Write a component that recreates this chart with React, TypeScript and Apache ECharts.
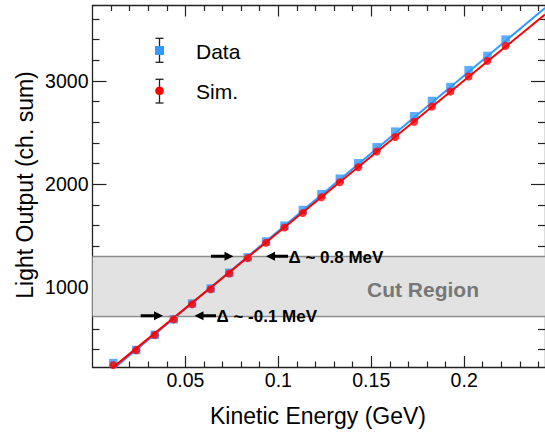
import React, { useEffect, useRef } from "react";
import * as echarts from "echarts";

// ---- data ----
const energies = [
  0.0112, 0.0235, 0.0335, 0.0437, 0.0536, 0.0636, 0.0736, 0.0835, 0.0934, 0.1033, 0.1132,
  0.1232, 0.1331, 0.143, 0.1529, 0.1629, 0.1731, 0.1827, 0.1926, 0.2024, 0.2125, 0.2223,
];
const dataLight = [
  268, 395, 542, 692, 845, 990, 1142, 1292, 1445, 1598, 1750,
  1903, 2053, 2203, 2358, 2509, 2657, 2806, 2940, 3104, 3242, 3400,
];
const simLight = [
  248, 393, 539, 691, 837, 983, 1135, 1284, 1433, 1580, 1721,
  1873, 2018, 2164, 2317, 2457, 2605, 2751, 2896, 3042, 3194, 3339,
];

// linear fits drawn over the points: y = a + b * x
const dataFit = { a: 42, b: 15050 };
const simFit = { a: 64, b: 14700 };

const X_MIN = 0;
const X_MAX = 0.2435;
const Y_MIN = 230;
const Y_MAX = 3730;
const FIT_X_START = 0.0112;

const xMajor = [0.05, 0.1, 0.15, 0.2];
const xMinor = [
  0.01, 0.02, 0.03, 0.04, 0.06, 0.07, 0.08, 0.09, 0.11, 0.12, 0.13, 0.14,
  0.16, 0.17, 0.18, 0.19, 0.21, 0.22, 0.23, 0.24,
];
const yMajor = [1000, 2000, 3000];
const yMinor = [
  400, 600, 800, 1200, 1400, 1600, 1800, 2200, 2400, 2600, 2800, 3200, 3400, 3600,
];

const CUT_LOW = 725;
const CUT_HIGH = 1300;

const FONT = "'Liberation Sans', Arial, Helvetica, sans-serif";
const AXIS_COLOR = "#222";
const BLUE = "#3399ff";
const RED = "#ff0000";

function arrowPoints(x0: number, x1: number, y: number) {
  const t = 1.5;
  const h = 9;
  const w = 4.5;
  const dir = x1 > x0 ? 1 : -1;
  const xb = x1 - dir * h;
  return [
    [x0, y - t],
    [xb, y - t],
    [xb, y - w],
    [x1, y],
    [xb, y + w],
    [xb, y + t],
    [x0, y + t],
  ];
}

export default function App() {
  const ref = useRef<HTMLDivElement>(null);

  useEffect(() => {
    if (!ref.current) return;
    const chart = echarts.init(ref.current, null, { renderer: "svg" });

    const fitLine = (f: { a: number; b: number }) => [
      [FIT_X_START, f.a + f.b * FIT_X_START],
      [X_MAX, f.a + f.b * X_MAX],
    ];

    const gridBox = { left: 92.5, top: 5.5, width: 454, height: 361.5 };

    const makeAxis = (
      gridIndex: number,
      position: string,
      min: number,
      max: number,
      ticks: number[],
      tickLen: number,
      showLine: boolean,
      label: any
    ) => ({
      type: "value",
      gridIndex,
      position,
      min,
      max,
      splitLine: { show: false },
      axisLine: {
        show: showLine,
        onZero: false,
        lineStyle: { color: AXIS_COLOR, width: 1.3 },
      },
      axisTick: {
        show: true,
        inside: true,
        length: tickLen,
        customValues: ticks,
        lineStyle: { color: AXIS_COLOR, width: 1.2 },
      },
      axisLabel: label,
    });

    const xLabel = {
      show: true,
      customValues: xMajor,
      margin: 3,
      fontSize: 19.5,
      fontFamily: FONT,
      color: "#000",
      formatter: (v: number) => String(v),
    };
    const yLabel = {
      show: true,
      customValues: yMajor,
      margin: 4,
      fontSize: 19.5,
      fontFamily: FONT,
      color: "#000",
      formatter: (v: number) => String(v),
    };
    const noLabel = { show: false };

    const option: any = {
      animation: false,
      backgroundColor: "#ffffff",
      grid: [
        { ...gridBox, containLabel: false },
        { ...gridBox, containLabel: false },
      ],
      xAxis: [
        makeAxis(0, "bottom", X_MIN, X_MAX, xMajor, 11, true, xLabel),
        makeAxis(0, "top", X_MIN, X_MAX, xMajor, 11, true, noLabel),
        makeAxis(1, "bottom", X_MIN, X_MAX, xMinor, 5.5, false, noLabel),
        makeAxis(1, "top", X_MIN, X_MAX, xMinor, 5.5, false, noLabel),
      ],
      yAxis: [
        makeAxis(0, "left", Y_MIN, Y_MAX, yMajor, 14, true, yLabel),
        makeAxis(0, "right", Y_MIN, Y_MAX, yMajor, 14, true, noLabel),
        makeAxis(1, "left", Y_MIN, Y_MAX, yMinor, 7, false, noLabel),
        makeAxis(1, "right", Y_MIN, Y_MAX, yMinor, 7, false, noLabel),
      ],
      series: [
        {
          name: "Data fit",
          type: "line",
          xAxisIndex: 0,
          yAxisIndex: 0,
          data: fitLine(dataFit),
          symbol: "none",
          lineStyle: { color: BLUE, width: 2 },
          z: 3,
          markArea: {
            silent: true,
            itemStyle: { color: "#e2e2e2" },
            data: [[{ xAxis: X_MIN, yAxis: CUT_LOW }, { xAxis: X_MAX, yAxis: CUT_HIGH }]],
            z: 1,
          },
          markLine: {
            silent: true,
            symbol: "none",
            label: { show: false },
            lineStyle: { color: "#8c8c8c", width: 1.4, type: "solid" },
            data: [{ yAxis: CUT_LOW }, { yAxis: CUT_HIGH }],
          },
        },
        {
          name: "Sim fit",
          type: "line",
          xAxisIndex: 0,
          yAxisIndex: 0,
          data: fitLine(simFit),
          symbol: "none",
          lineStyle: { color: RED, width: 2 },
          z: 4,
        },
        {
          name: "Data",
          type: "scatter",
          xAxisIndex: 0,
          yAxisIndex: 0,
          data: energies.map((e, i) => [e, dataLight[i]]),
          symbol: "rect",
          symbolSize: 8.5,
          itemStyle: { color: BLUE },
          z: 2,
        },
        {
          name: "Sim.",
          type: "scatter",
          xAxisIndex: 0,
          yAxisIndex: 0,
          data: energies.map((e, i) => [e, simLight[i]]),
          symbol: "circle",
          symbolSize: 8,
          itemStyle: { color: RED },
          z: 5,
        },
      ],
      graphic: [
        // axis titles
        {
          type: "text",
          x: 318,
          y: 416,
          z: 100,
          style: {
            text: "Kinetic Energy (GeV)",
            fontSize: 23,
            fontFamily: FONT,
            fill: "#000",
            align: "center",
            verticalAlign: "middle",
          },
        },
        {
          type: "text",
          x: 25,
          y: 185,
          rotation: Math.PI / 2,
          z: 100,
          style: {
            text: "Light Output (ch. sum)",
            fontSize: 23,
            fontFamily: FONT,
            fill: "#000",
            align: "center",
            verticalAlign: "middle",
          },
        },
        // legend: Data
        { type: "line", z: 100, shape: { x1: 159.5, y1: 38.3, x2: 159.5, y2: 62.3 }, style: { stroke: AXIS_COLOR, lineWidth: 1.3 } },
        { type: "line", z: 100, shape: { x1: 155.5, y1: 38.3, x2: 163.5, y2: 38.3 }, style: { stroke: AXIS_COLOR, lineWidth: 1.3 } },
        { type: "line", z: 100, shape: { x1: 155.5, y1: 62.3, x2: 163.5, y2: 62.3 }, style: { stroke: AXIS_COLOR, lineWidth: 1.3 } },
        { type: "rect", z: 101, shape: { x: 155, y: 46, width: 9, height: 9 }, style: { fill: BLUE } },
        {
          type: "text",
          x: 196,
          y: 51,
          z: 100,
          style: { text: "Data", fontSize: 21, fontFamily: FONT, fill: "#000", verticalAlign: "middle" },
        },
        // legend: Sim.
        { type: "line", z: 100, shape: { x1: 159.5, y1: 79.3, x2: 159.5, y2: 103 }, style: { stroke: AXIS_COLOR, lineWidth: 1.3 } },
        { type: "line", z: 100, shape: { x1: 155.5, y1: 79.3, x2: 163.5, y2: 79.3 }, style: { stroke: AXIS_COLOR, lineWidth: 1.3 } },
        { type: "line", z: 100, shape: { x1: 155.5, y1: 103, x2: 163.5, y2: 103 }, style: { stroke: AXIS_COLOR, lineWidth: 1.3 } },
        { type: "circle", z: 101, shape: { cx: 159.5, cy: 90.8, r: 4.3 }, style: { fill: RED } },
        {
          type: "text",
          x: 196,
          y: 91.5,
          z: 100,
          style: { text: "Sim.", fontSize: 21, fontFamily: FONT, fill: "#000", verticalAlign: "middle" },
        },
        // cut region label
        {
          type: "text",
          x: 423,
          y: 289,
          z: 100,
          style: {
            text: "Cut Region",
            fontSize: 21,
            fontWeight: "bold",
            fontFamily: FONT,
            fill: "#777777",
            align: "center",
            verticalAlign: "middle",
          },
        },
        // annotations
        { type: "polygon", z: 100, shape: { points: arrowPoints(211, 233.5, 256.3) }, style: { fill: "#000" } },
        { type: "polygon", z: 100, shape: { points: arrowPoints(288, 266, 256.3) }, style: { fill: "#000" } },
        {
          type: "text",
          x: 288.5,
          y: 257.5,
          z: 100,
          style: {
            text: "Δ ~ 0.8 MeV",
            fontSize: 17,
            fontWeight: "bold",
            fontFamily: FONT,
            fill: "#000",
            verticalAlign: "middle",
          },
        },
        { type: "polygon", z: 100, shape: { points: arrowPoints(140.7, 163, 315.7) }, style: { fill: "#000" } },
        { type: "polygon", z: 100, shape: { points: arrowPoints(216, 194.5, 315.7) }, style: { fill: "#000" } },
        {
          type: "text",
          x: 216.5,
          y: 316.5,
          z: 100,
          style: {
            text: "Δ ~ -0.1 MeV",
            fontSize: 17,
            fontWeight: "bold",
            fontFamily: FONT,
            fill: "#000",
            verticalAlign: "middle",
          },
        },
      ],
    };

    chart.setOption(option);
    return () => chart.dispose();
  }, []);

  return (
    <div
      ref={ref}
      style={{ position: "fixed", left: 0, top: 0, width: 545, height: 434, background: "#fff" }}
    />
  );
}
